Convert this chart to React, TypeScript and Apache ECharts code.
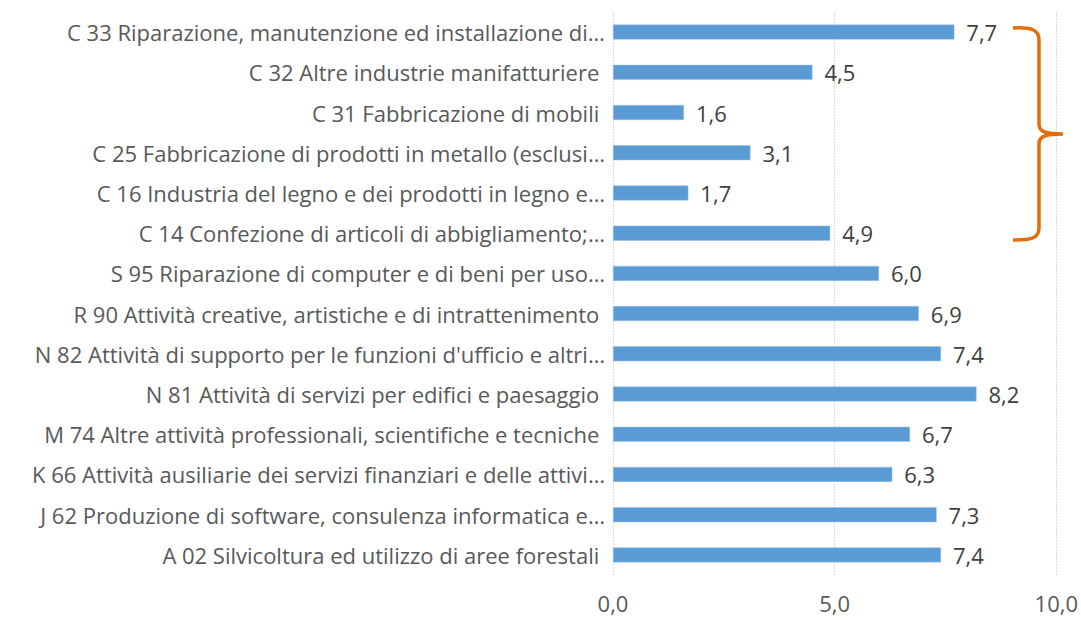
import React, { useEffect, useRef } from "react";
import * as echarts from "echarts";

const categories = [
  "C 33 Riparazione, manutenzione ed installazione di…",
  "C 32 Altre industrie manifatturiere\u00a0",
  "C 31 Fabbricazione di mobili\u00a0",
  "C 25 Fabbricazione di prodotti in metallo (esclusi…",
  "C 16 Industria del legno e dei prodotti in legno e…",
  "C 14 Confezione di articoli di abbigliamento;…",
  "S 95 Riparazione di computer e di beni per uso…",
  "R 90 Attività creative, artistiche e di intrattenimento\u00a0",
  "N 82 Attività di supporto per le funzioni d'ufficio e altri…",
  "N 81 Attività di servizi per edifici e paesaggio\u00a0",
  "M 74 Altre attività professionali, scientifiche e tecniche\u00a0",
  "K 66 Attività ausiliarie dei servizi finanziari e delle attivi…",
  "J 62 Produzione di software, consulenza informatica e…",
  "A 02 Silvicoltura ed utilizzo di aree forestali\u00a0",
];

const values = [7.7, 4.5, 1.6, 3.1, 1.7, 4.9, 6.0, 6.9, 7.4, 8.2, 6.7, 6.3, 7.3, 7.4];

const xTicks = [0, 5, 10];

const BRACE_D =
  "M1013,28 C1030,27 1039,29 1039,40 L1039,124 C1039,132 1046,134 1063,134 C1046,134 1039,136 1039,144 L1039,228 C1039,239 1030,240 1013,240";

let registered = false;

export default function App() {
  const ref = useRef<HTMLDivElement>(null);

  useEffect(() => {
    if (!ref.current) return;
    if (!registered) {
      echarts.graphic.registerShape("brace", echarts.graphic.extendPath(BRACE_D, {}));
      registered = true;
    }
    const chart = echarts.init(ref.current, null, { renderer: "svg" });
    const font = "Open Sans";
    chart.setOption({
      animation: false,
      backgroundColor: "#ffffff",
      grid: { left: 613, right: 24, top: 12, bottom: 47, containLabel: false },
      xAxis: {
        type: "value",
        min: xTicks[0],
        max: xTicks[xTicks.length - 1],
        interval: 5,
        axisLine: { show: false },
        axisTick: { show: false },
        splitLine: { show: true, lineStyle: { color: "#D9D9D9", type: [2, 1], width: 1 } },
        axisLabel: {
          color: "#595959",
          fontFamily: font,
          fontSize: 22,
          margin: 17,
          formatter: (v: number) => v.toFixed(1).replace(".", ","),
        },
      },
      yAxis: {
        type: "category",
        data: categories,
        inverse: true,
        axisLine: { show: false },
        axisTick: { show: false },
        axisLabel: { color: "#595959", fontFamily: font, fontSize: 22, margin: 8 },
      },
      series: [
        {
          type: "bar",
          data: values,
          barWidth: 15,
          itemStyle: { color: "#5B9BD5", borderColor: "#9DC3E6", borderWidth: 0.5 },
          label: {
            show: true,
            position: "right",
            distance: 12,
            color: "#404040",
            fontFamily: font,
            fontSize: 22,
            formatter: (p: any) => Number(p.value).toFixed(1).replace(".", ","),
          },
        },
      ],
      graphic: [
        {
          type: "brace",
          x: 0,
          y: 0,
          style: { fill: "none", stroke: "#E46C0A", lineWidth: 3.5 },
          z: 100,
        },
      ],
    });
    return () => chart.dispose();
  }, []);

  return <div ref={ref} style={{ width: 1081, height: 622, position: "absolute", left: 0, top: 0 }} />;
}
